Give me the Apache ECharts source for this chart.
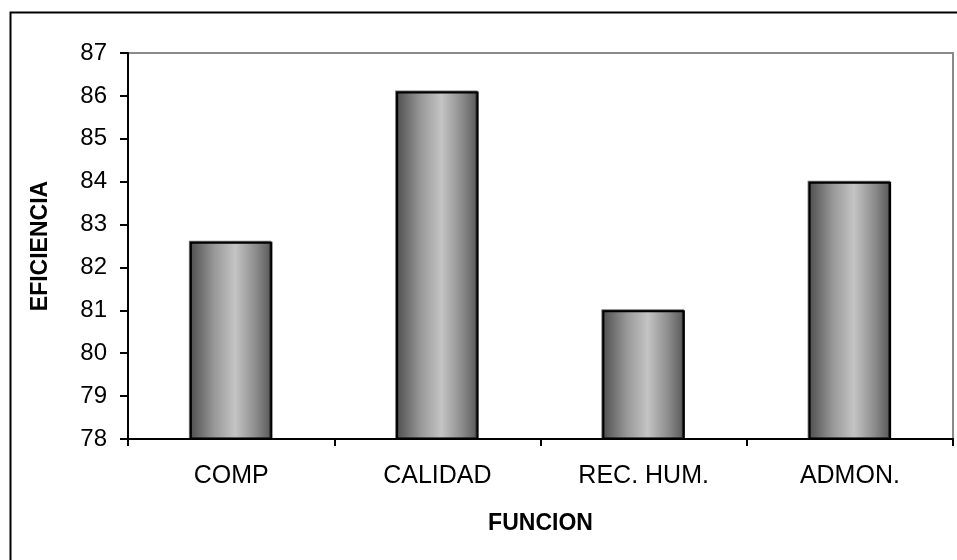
<!DOCTYPE html>
<html>
<head>
<meta charset="utf-8">
<script src="https://cdn.jsdelivr.net/npm/echarts@6/dist/echarts.min.js"></script>
<style>
	html, body { margin: 0; padding: 0; background: #fff; }
	#chart { width: 957px; height: 560px; }
</style>
</head>
<body>
<div id="chart"></div>
<script>
	// datos
	var categorias = ['COMP', 'CALIDAD', 'REC. HUM.', 'ADMON.'];
	var eficiencia = [82.6, 86.1, 81.0, 84.0];
	var ejeY = { min: 78, max: 87, paso: 1 };

	var fuente = 'Liberation Sans, Arial, sans-serif';

	// relleno de las barras (cilindro gris)
	var relleno = new echarts.graphic.LinearGradient(0, 0, 1, 0, [
		{ offset: 0, color: '#4e4e4e' },
		{ offset: 0.3, color: '#999999' },
		{ offset: 0.55, color: '#c4c4c4' },
		{ offset: 0.8, color: '#8c8c8c' },
		{ offset: 1, color: '#555555' }
	]);

	var chart = echarts.init(document.getElementById('chart'));

	var option = {
		animation: false,
		backgroundColor: '#fff',
		textStyle: { fontFamily: fuente },

		//marco exterior
		graphic: [{
			type: 'rect',
			left: 8, top: 10,
			shape: { width: 1000, height: 600 },
			style: { fill: 'none', stroke: '#000', lineWidth: 2 },
			silent: true
		}],

		grid: {
			left: 128, right: 4, top: 53, bottom: 121,
			show: true,
			borderColor: '#8a8a8a',
			borderWidth: 2,
			backgroundColor: '#fff'
		},

		xAxis: {
			type: 'category',
			data: categorias,
			name: 'FUNCION',
			nameLocation: 'middle',
			nameGap: 73,
			nameTextStyle: { fontFamily: fuente, fontSize: 23, fontWeight: 'bold', color: '#000' },
			axisLine: { lineStyle: { color: '#000', width: 2 } },
			axisTick: { show: true, length: 7, inside: false, alignWithLabel: false, lineStyle: { color: '#000', width: 2 } },
			axisLabel: { fontFamily: fuente, fontSize: 25, color: '#000', margin: 25 },
			splitLine: { show: false }
		},

		yAxis: {
			type: 'value',
			min: ejeY.min,
			max: ejeY.max,
			interval: ejeY.paso,
			name: 'EFICIENCIA',
			nameLocation: 'middle',
			nameGap: 76,
			nameTextStyle: { fontFamily: fuente, fontSize: 23, fontWeight: 'bold', color: '#000' },
			axisLine: { show: true, lineStyle: { color: '#000', width: 2 } },
			axisTick: { show: true, length: 8, lineStyle: { color: '#000', width: 2 } },
			axisLabel: { fontFamily: fuente, fontSize: 24, color: '#000', margin: 21 },
			splitLine: { show: false }
		},

		series: [{
			type: 'bar',
			data: eficiencia,
			barWidth: '40%',
			itemStyle: {
				color: relleno,
				borderColor: '#000',
				borderWidth: 2,
				shadowColor: 'rgba(0,0,0,0.55)',
				shadowOffsetX: -1,
				shadowOffsetY: -1,
				shadowBlur: 0
			}
		}]
	};

	chart.setOption(option);
</script>
</body>
</html>
